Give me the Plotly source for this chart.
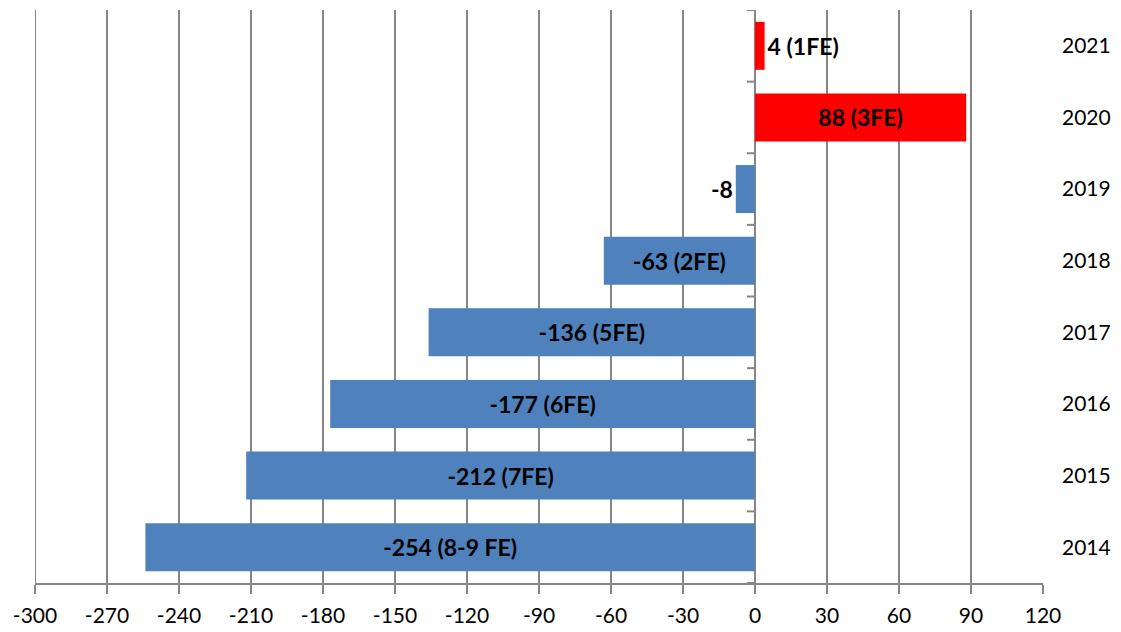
import plotly.graph_objects as go

years = ["2014", "2015", "2016", "2017", "2018", "2019", "2020", "2021"]
values = [-254, -212, -177, -136, -63, -8, 88, 4]
labels = ["-254 (8-9 FE)", "-212 (7FE)", "-177 (6FE)", "-136 (5FE)",
          "-63 (2FE)", "-8", "88 (3FE)", "4 (1FE)"]
x_ticks = list(range(-300, 121, 30))

BLUE = "#4F81BD"
RED = "#FF0000"
GRID = "#868686"
FONT = "Lato"

colors = [RED if v > 0 else BLUE for v in values]
positions = ["outside" if abs(v) < 20 else "inside" for v in values]
ypos = list(range(len(years)))
label_font = dict(family=FONT, size=23, color="black", weight="bold")

fig = go.Figure(go.Bar(
    x=values,
    y=ypos,
    orientation="h",
    marker=dict(color=colors, line=dict(width=0)),
    text=labels,
    textposition=positions,
    insidetextanchor="middle",
    textangle=0,
    cliponaxis=False,
    constraintext="none",
    textfont=label_font,
    outsidetextfont=label_font,
    insidetextfont=label_font,
))

# small tick marks on the zero axis at category boundaries
shapes = []
for k in range(len(years) + 1):
    shapes.append(dict(
        type="line", xref="x", yref="y", xsizemode="pixel", xanchor=0,
        x0=-8, x1=0, y0=k - 0.5, y1=k - 0.5,
        line=dict(color=GRID, width=2),
    ))
# left border gridline at the minimum of the value axis
shapes.append(dict(
    type="line", xref="x", yref="paper", x0=x_ticks[0], x1=x_ticks[0],
    y0=0, y1=1, line=dict(color=GRID, width=2),
))

fig.update_layout(
    width=1121, height=632,
    margin=dict(l=35, r=78, t=10, b=49),
    paper_bgcolor="white", plot_bgcolor="white",
    bargap=0.33,
    showlegend=False,
    shapes=shapes,
    font=dict(family=FONT, size=21, color="black"),
    xaxis=dict(
        range=[-300, 120], tickvals=x_ticks, ticktext=[str(t) for t in x_ticks],
        showgrid=True, gridcolor=GRID, gridwidth=2,
        zeroline=True, zerolinecolor=GRID, zerolinewidth=2,
        showline=True, linecolor=GRID, linewidth=2,
        ticks="outside", ticklen=9, tickwidth=2, tickcolor=GRID,
        ticklabelstandoff=4, automargin=False,
        tickfont=dict(family=FONT, size=21, color="black"),
        fixedrange=True,
    ),
    yaxis=dict(
        range=[-0.5, len(years) - 0.5],
        tickvals=ypos, ticktext=years, side="right",
        showgrid=False, zeroline=False, showline=False, ticks="",
        ticklabelstandoff=18, automargin=False,
        tickfont=dict(family=FONT, size=21, color="black"),
        fixedrange=True,
    ),
)

fig.write_html("out.html")
